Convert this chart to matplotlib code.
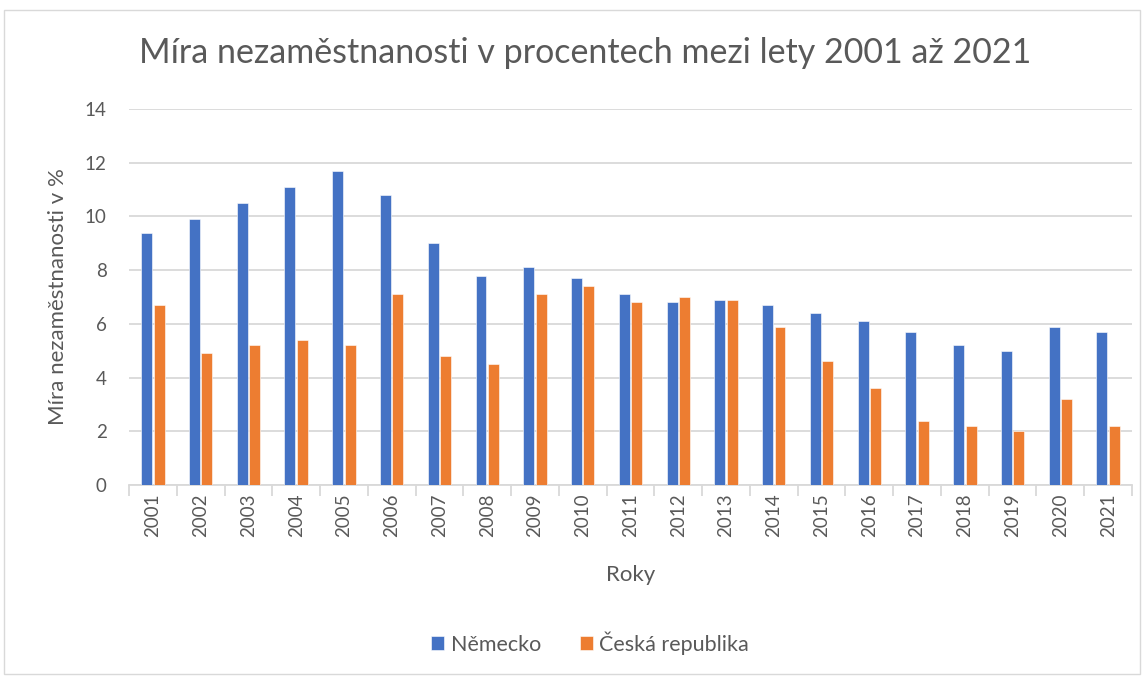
import numpy as np
import matplotlib.pyplot as plt
import matplotlib.patches as patches

# Data
years = [str(y) for y in range(2001, 2022)]
nemecko = [9.4, 9.9, 10.5, 11.1, 11.7, 10.8, 9.0, 7.8, 8.1, 7.7, 7.1,
           6.8, 6.9, 6.7, 6.4, 6.1, 5.7, 5.2, 5.0, 5.9, 5.7]
cesko = [6.7, 4.9, 5.2, 5.4, 5.2, 7.1, 4.8, 4.5, 7.1, 7.4, 6.8,
         7.0, 6.9, 5.9, 4.6, 3.6, 2.4, 2.2, 2.0, 3.2, 2.2]

text_color = '#595959'
grid_color = '#D9D9D9'

plt.rcParams['font.family'] = ['Lato', 'DejaVu Sans']

W, H = 1146, 677
fig = plt.figure(figsize=(W / 100, H / 100), dpi=100)

# Chart border
fig.patches.append(patches.Rectangle((4 / W, 1 - 674 / H), 1136 / W, 664 / H,
                                     transform=fig.transFigure, fill=False,
                                     edgecolor=grid_color, lw=1))

ax = fig.add_axes([129 / W, 1 - 485 / H, 1003 / W, 376 / H])

x = np.arange(len(years))
w = 0.23
gap = 0.03
ax.bar(x - w / 2 - gap / 2, nemecko, w, color='#4472C4', edgecolor='white', lw=0.4, label='Německo', zorder=3)
ax.bar(x + w / 2 + gap / 2, cesko, w, color='#ED7D31', edgecolor='white', lw=0.4, label='Česká republika', zorder=3)

ax.set_xlim(-0.5, len(years) - 0.5)
ax.set_ylim(0, 14)
ax.set_yticks(range(0, 15, 2))
ax.yaxis.grid(True, color=grid_color, lw=1.3)
ax.set_axisbelow(True)
ax.tick_params(axis='y', length=0, labelsize=13.5, labelcolor=text_color, pad=16)

# category separators as major ticks, labels on minor ticks
ax.set_xticks(np.arange(-0.5, len(years), 1))
ax.set_xticklabels([])
ax.set_xticks(x, minor=True)
ax.set_xticklabels(years, minor=True, rotation=90)
ax.tick_params(axis='x', which='major', length=8, color=grid_color, width=1.3)
ax.tick_params(axis='x', which='minor', length=0, labelsize=13.5, labelcolor=text_color, pad=6)

for s in ['top', 'right', 'left']:
    ax.spines[s].set_visible(False)
ax.spines['bottom'].set_color(grid_color)
ax.spines['bottom'].set_linewidth(1.3)

ax.set_xlabel('Roky', fontsize=16, color=text_color, labelpad=20)
ax.set_ylabel('Míra nezaměstnanosti v %', fontsize=16, color=text_color, labelpad=12)

fig.text(585 / W, 1 - 53 / H, 'Míra nezaměstnanosti v procentech mezi lety 2001 až 2021',
         ha='center', va='center', fontsize=24.5, color=text_color)

fig.legend(loc='center', bbox_to_anchor=(590 / W, 1 - 643 / H), ncol=2, frameon=False,
           fontsize=15.5, labelcolor=text_color, handlelength=0.6, handleheight=0.6,
           handletextpad=0.3, columnspacing=1.8)

plt.savefig('out.png', dpi=100)
